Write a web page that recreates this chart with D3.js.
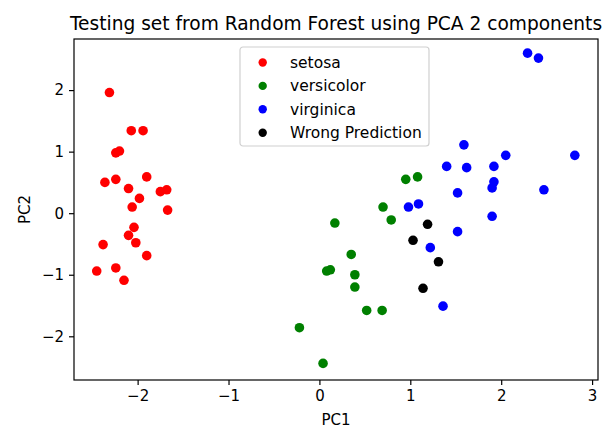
<!DOCTYPE html>
<html>
<head>
<meta charset="utf-8">
<script src="https://cdn.jsdelivr.net/npm/d3@7"></script>
<style>
  body { margin: 0; background: #fff; }
  text { font-family: "DejaVu Sans", sans-serif; fill: #000; }
</style>
</head>
<body>
<div id="chart"></div>
<script>
// PCA coordinates
const setosaPC1 = [-2.31, -2.07, -1.94, -2.24, -2.20, -2.36, -2.24, -1.90, -2.10, -1.75, -1.68, -1.98, -2.06, -1.67, -2.04, -2.10, -2.38, -2.02, -1.90, -2.45, -2.24, -2.15];
const setosaPC2 = [1.96, 1.34, 1.34, 0.98, 1.01, 0.50, 0.55, 0.59, 0.40, 0.35, 0.38, 0.24, 0.10, 0.05, -0.23, -0.36, -0.51, -0.48, -0.69, -0.94, -0.89, -1.09];

const versicolorPC1 = [0.95, 1.08, 0.70, 0.79, 0.17, 0.35, 0.08, 0.12, 0.39, 0.39, 0.52, 0.69, -0.22, 0.04];
const versicolorPC2 = [0.55, 0.59, 0.10, -0.11, -0.16, -0.67, -0.94, -0.92, -1.00, -1.20, -1.58, -1.58, -1.86, -2.44];

const virginicaPC1 = [2.29, 2.41, 1.59, 2.05, 2.81, 1.40, 1.62, 1.92, 1.92, 1.90, 1.52, 2.47, 1.90, 0.98, 1.09, 1.52, 1.22, 1.36];
const virginicaPC2 = [2.60, 2.52, 1.11, 0.94, 0.94, 0.76, 0.74, 0.76, 0.51, 0.41, 0.33, 0.38, -0.05, 0.10, 0.15, -0.30, -0.56, -1.51];

const wrongPC1 = [1.19, 1.03, 1.31, 1.14];
const wrongPC2 = [-0.18, -0.44, -0.79, -1.22];

const groups = [
  { name: 'setosa', color: 'red', pc1: setosaPC1, pc2: setosaPC2 },
  { name: 'versicolor', color: 'green', pc1: versicolorPC1, pc2: versicolorPC2 },
  { name: 'virginica', color: 'blue', pc1: virginicaPC1, pc2: virginicaPC2 },
  { name: 'Wrong Prediction', color: 'black', pc1: wrongPC1, pc2: wrongPC2 }
];

const xTicks = [-2, -1, 0, 1, 2, 3];
const yTicks = [-2, -1, 0, 1, 2];

const width = 616, height = 445;
const margin = { top: 39, right: 18, bottom: 65, left: 74 };

const svg = d3.select('#chart').append('svg')
  .attr('width', width)
  .attr('height', height);

const x = d3.scaleLinear()
  .domain([-2.70, 3.065])
  .range([margin.left, width - margin.right]);

const y = d3.scaleLinear()
  .domain([-2.71, 2.83])
  .range([height - margin.bottom, margin.top]);

// points, one group per class
groups.forEach(g => {
  const pts = g.pc1.map((v, i) => [v, g.pc2[i]]);
  svg.append('g')
    .selectAll('circle')
    .data(pts)
    .join('circle')
    .attr('cx', d => x(d[0]))
    .attr('cy', d => y(d[1]))
    .attr('r', 4.8)
    .attr('fill', g.color);
});

// axes
const fmt = d => d < 0 ? '\u2212' + Math.abs(d) : d;

const xAxis = svg.append('g')
  .attr('transform', `translate(0,${height - margin.bottom})`)
  .call(d3.axisBottom(x).tickValues(xTicks).tickSize(5).tickPadding(5).tickFormat(fmt));

const yAxis = svg.append('g')
  .attr('transform', `translate(${margin.left},0)`)
  .call(d3.axisLeft(y).tickValues(yTicks).tickSize(5).tickPadding(5).tickFormat(fmt));

[xAxis, yAxis].forEach(a => {
  a.selectAll('.domain').remove();
  a.selectAll('.tick line').attr('stroke', '#000').attr('stroke-width', 1.2);
  a.selectAll('.tick text').attr('font-size', 15).attr('font-family', '"DejaVu Sans", sans-serif').attr('fill', '#000');
});

// frame around the plot area
svg.append('rect')
  .attr('x', margin.left)
  .attr('y', margin.top)
  .attr('width', width - margin.left - margin.right)
  .attr('height', height - margin.top - margin.bottom)
  .attr('fill', 'none')
  .attr('stroke', '#000')
  .attr('stroke-width', 1.2);

// title and axis labels
svg.append('text')
  .attr('x', (margin.left + width - margin.right) / 2)
  .attr('y', 30)
  .attr('text-anchor', 'middle')
  .attr('font-size', 18.6)
  .text('Testing set from Random Forest using PCA 2 components');

svg.append('text')
  .attr('x', (margin.left + width - margin.right) / 2)
  .attr('y', 425)
  .attr('text-anchor', 'middle')
  .attr('font-size', 15)
  .text('PC1');

svg.append('text')
  .attr('transform', `translate(30,${(margin.top + height - margin.bottom) / 2}) rotate(-90)`)
  .attr('text-anchor', 'middle')
  .attr('font-size', 15)
  .text('PC2');

// legend
const legend = svg.append('g').attr('transform', 'translate(240,47)');

legend.append('rect')
  .attr('width', 189)
  .attr('height', 99)
  .attr('rx', 3)
  .attr('fill', '#fff')
  .attr('fill-opacity', 0.8)
  .attr('stroke', '#d0d0d0')
  .attr('stroke-width', 1.2);

const rows = legend.selectAll('.legend-row')
  .data(groups)
  .join('g')
  .attr('class', 'legend-row')
  .attr('transform', (d, i) => `translate(0,${15.5 + i * 23.4})`);

rows.append('circle')
  .attr('cx', 22.7)
  .attr('cy', 0)
  .attr('r', 4.2)
  .attr('fill', d => d.color);

rows.append('text')
  .attr('x', 50)
  .attr('dy', '0.35em')
  .attr('font-size', 15.5)
  .text(d => d.name);
</script>
</body>
</html>
